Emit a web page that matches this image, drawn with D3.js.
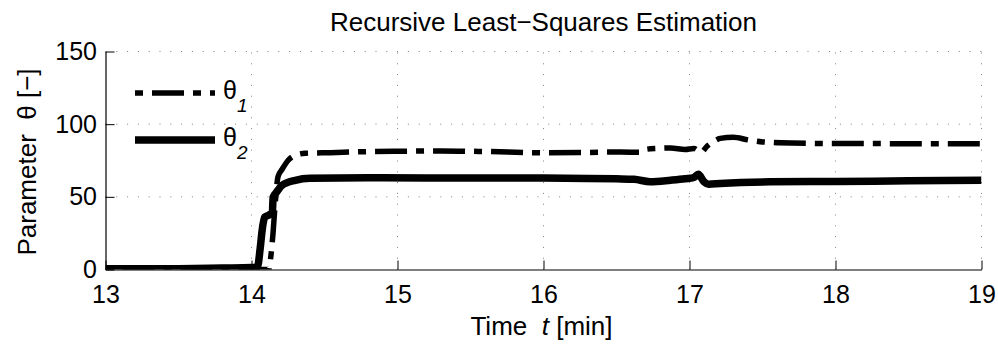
<!DOCTYPE html>
<html>
<head>
<meta charset="utf-8">
<script src="https://cdn.jsdelivr.net/npm/d3@7"></script>
<style>
  html, body { margin: 0; padding: 0; background: #fff; }
  svg { display: block; }
  text { font-family: "Liberation Sans", Arial, Helvetica, sans-serif; fill: #000; }
</style>
</head>
<body>
<svg id="chart" width="998" height="344"></svg>
<script>
// Estimated parameters over time (minutes)
const time1 = [13.0, 14.0, 14.12, 14.127, 14.148, 14.162, 14.182, 14.21, 14.25, 14.30, 14.37, 14.54, 14.74,
  15.0, 15.3, 15.6, 16.0, 16.3, 16.53, 16.66, 16.71, 16.78, 16.87, 16.97, 17.03, 17.08, 17.12, 17.16,
  17.21, 17.3, 17.4, 17.5, 17.7, 18.0, 18.5, 19.0];
const theta1 = [0, 0, 0, 4.5, 25.7, 45, 64, 69, 75, 78.6, 80, 80.4, 81,
  81.3, 81.6, 81.2, 80.3, 80.5, 80.9, 80.6, 82.8, 83.3, 83.6, 82.6, 83.3, 80.7, 84.8, 87.7,
  90.2, 91, 89.2, 87.8, 87, 86.7, 86.6, 86.6];

const time2 = [13.0, 13.5, 13.8, 14.0, 14.04, 14.06, 14.073, 14.09, 14.12, 14.143, 14.148, 14.17, 14.21,
  14.3, 14.4, 14.8, 15.2, 15.6, 16.0, 16.3, 16.5, 16.62, 16.73, 16.87, 16.97, 17.03, 17.06, 17.1,
  17.13, 17.21, 17.55, 18.0, 18.5, 19.0];
const theta2 = [0.5, 0.6, 1.0, 1.3, 1.5, 15, 27, 36, 37.5, 39, 49.8, 53, 58,
  61.4, 62.8, 63.2, 63.0, 62.9, 62.9, 62.7, 62.4, 62.1, 60.4, 61.4, 62.4, 63.3, 65.5, 60.3,
  58.7, 59.2, 60.3, 60.6, 61.0, 61.4];

const xTicks = [13, 14, 15, 16, 17, 18, 19];
const yTicks = [0, 50, 100, 150];

const svg = d3.select("#chart");
const box = { left: 105.5, right: 981.5, top: 51.5, bottom: 269.5 };

const x = d3.scaleLinear().domain([13, 19]).range([box.left, box.right]);
const y = d3.scaleLinear().domain([0, 150]).range([box.bottom, box.top]);

// dotted grid
const grid = svg.append("g").attr("stroke", "#000").attr("stroke-opacity", 0.5)
  .attr("stroke-width", 1).attr("stroke-dasharray", "1,9.8");
grid.selectAll("line.v").data(xTicks.slice(1)).join("line").attr("class", "v")
  .attr("x1", d => x(d)).attr("x2", d => x(d))
  .attr("y1", box.bottom).attr("y2", box.top);
grid.selectAll("line.h").data(yTicks.slice(1)).join("line").attr("class", "h")
  .attr("y1", d => y(d)).attr("y2", d => y(d))
  .attr("x1", box.left).attr("x2", box.right);

// clip lines to the axes box
svg.append("defs").append("clipPath").attr("id", "plotClip")
  .append("rect").attr("x", box.left).attr("y", box.top)
  .attr("width", box.right - box.left).attr("height", box.bottom - box.top);

const line = d3.line().x(d => x(d[0])).y(d => y(d[1])).curve(d3.curveMonotoneX);
const plot = svg.append("g").attr("clip-path", "url(#plotClip)");

plot.append("path")
  .datum(time1.map((t, i) => [t, theta1[i]]))
  .attr("d", line).attr("fill", "none").attr("stroke", "#000")
  .attr("stroke-width", 5.5).attr("stroke-dasharray", "8,9,32,9")
  .attr("stroke-linejoin", "round");

plot.append("path")
  .datum(time2.map((t, i) => [t, theta2[i]]))
  .attr("d", line).attr("fill", "none").attr("stroke", "#000")
  .attr("stroke-width", 7.5).attr("stroke-linejoin", "round");

// axes
const xAxis = svg.append("g").attr("transform", `translate(0,${box.bottom})`)
  .call(d3.axisBottom(x).tickValues(xTicks).tickFormat(d3.format("d"))
    .tickSizeInner(-9).tickSizeOuter(0).tickPadding(15.75));
const yAxis = svg.append("g").attr("transform", `translate(${box.left},0)`)
  .call(d3.axisLeft(y).tickValues(yTicks).tickFormat(d3.format("d"))
    .tickSizeInner(-9).tickSizeOuter(0).tickPadding(8.5));
[xAxis, yAxis].forEach(g => {
  g.selectAll("path.domain").attr("stroke", "#000").attr("stroke-width", 1.2);
  g.selectAll(".tick line").attr("stroke", "#000").attr("stroke-width", 1);
  g.selectAll(".tick text").attr("font-size", 25)
    .attr("font-family", "'Liberation Sans', Arial, Helvetica, sans-serif").attr("fill", "#000");
});

// title and labels
svg.append("text").attr("x", (box.left + box.right) / 2).attr("y", 31)
  .attr("text-anchor", "middle").attr("font-size", 26)
  .text("Recursive Least\u2212Squares Estimation");

const xl = svg.append("text").attr("x", (box.left + box.right) / 2 - 2).attr("y", 335)
  .attr("text-anchor", "middle").attr("font-size", 26).attr("xml:space", "preserve");
xl.append("tspan").text("Time  ");
xl.append("tspan").attr("font-style", "italic").text("t");
xl.append("tspan").text(" [min]");

svg.append("text").attr("transform", "translate(36,162) rotate(-90)")
  .attr("text-anchor", "middle").attr("font-size", 26).attr("xml:space", "preserve")
  .text("Parameter  \u03b8 [\u2212]");

// legend
const legend = [
  { name: "1", width: 5.5, dash: "8,9,32,9", y: 93 },
  { name: "2", width: 7.5, dash: null, y: 140 }
];
const lg = svg.append("g");
legend.forEach(d => {
  lg.append("line").attr("x1", 135).attr("x2", 215).attr("y1", d.y).attr("y2", d.y)
    .attr("stroke", "#000").attr("stroke-width", d.width)
    .attr("stroke-dasharray", d.dash);
  const t = lg.append("text").attr("x", 223).attr("y", d.y + 5.5).attr("font-size", 25);
  t.append("tspan").text("\u03b8");
  t.append("tspan").attr("font-size", 19).attr("font-style", "italic").attr("dy", 13).text(d.name);
});
</script>
</body>
</html>
